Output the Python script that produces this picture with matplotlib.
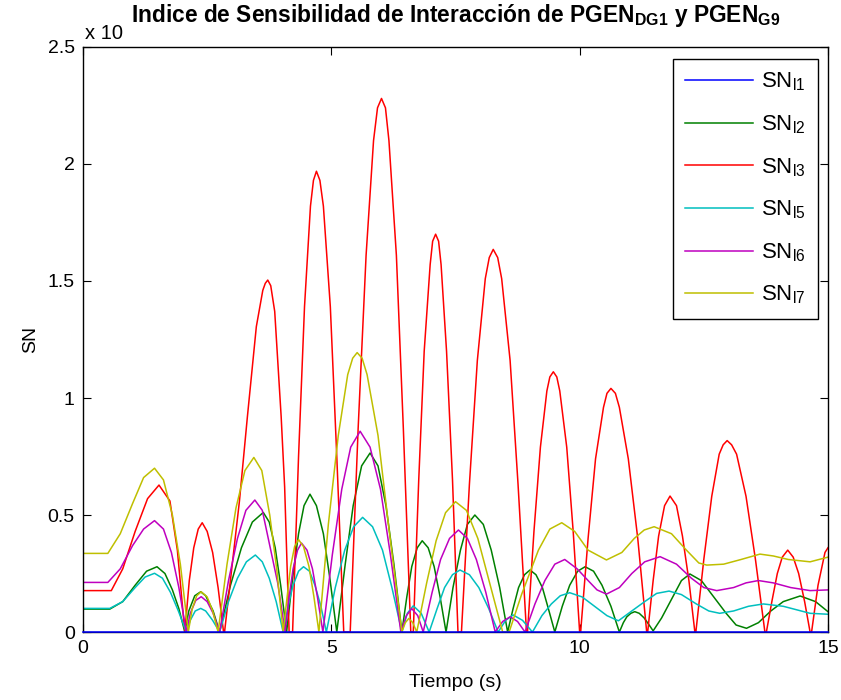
import matplotlib
matplotlib.use("Agg")
import matplotlib.pyplot as plt

plt.rcParams["font.family"] = ["Liberation Sans", "DejaVu Sans"]
plt.rcParams["mathtext.fontset"] = "custom"
plt.rcParams["mathtext.rm"] = "Liberation Sans"
plt.rcParams["mathtext.bf"] = "Liberation Sans:bold"

# values (units of 1e-n, time in s)
t_l1 = [0.0, 15.0]
sn_l1 = [0.0, 0.0]

t_l2 = [0.0, 0.54, 0.80, 1.05, 1.28, 1.49, 1.65, 1.80, 1.93, 2.05,
        2.13, 2.25, 2.37, 2.47, 2.62, 2.75,
        2.97, 3.19, 3.41, 3.63, 3.75, 3.87, 3.98, 4.10,
        4.22, 4.34, 4.45, 4.57, 4.70, 4.84, 4.97, 5.11,
        5.28, 5.44, 5.61, 5.78, 5.94, 6.10, 6.26, 6.42,
        6.52, 6.62, 6.73, 6.83, 6.95, 7.07, 7.19, 7.31,
        7.45, 7.60, 7.74, 7.89, 8.06, 8.22, 8.39, 8.55,
        8.66, 8.77, 8.89, 9.00, 9.12, 9.25, 9.37, 9.50,
        9.65, 9.80, 9.96, 10.11, 10.28, 10.45, 10.63, 10.80,
        10.88, 10.95, 11.03, 11.11, 11.20, 11.30, 11.40, 11.48,
        11.65, 11.85, 12.05, 12.22, 12.45, 12.70, 12.95, 13.15, 13.36,
        13.60, 13.85, 14.10, 14.44, 14.75, 15.0]
sn_l2 = [0.098, 0.098, 0.13, 0.20, 0.26, 0.279, 0.25, 0.18, 0.10, 0.0,
         0.09, 0.155, 0.172, 0.155, 0.09, 0.0,
         0.20, 0.36, 0.47, 0.511, 0.47, 0.36, 0.20, 0.0,
         0.23, 0.42, 0.54, 0.589, 0.54, 0.42, 0.23, 0.0,
         0.29, 0.54, 0.71, 0.765, 0.71, 0.54, 0.29, 0.0,
         0.15, 0.28, 0.36, 0.39, 0.36, 0.28, 0.15, 0.0,
         0.19, 0.35, 0.46, 0.50, 0.46, 0.35, 0.19, 0.0,
         0.10, 0.19, 0.245, 0.265, 0.245, 0.19, 0.10, 0.0,
         0.11, 0.20, 0.26, 0.279, 0.26, 0.20, 0.11, 0.0,
         0.04, 0.065, 0.08, 0.087, 0.08, 0.06, 0.03, 0.005,
         0.06, 0.14, 0.22, 0.248, 0.22, 0.15, 0.08, 0.03, 0.016,
         0.04, 0.09, 0.13, 0.154, 0.13, 0.087]

t_l3 = [0.0, 0.57, 0.80, 1.05, 1.30, 1.53, 1.75, 1.90, 2.05,
        2.14, 2.23, 2.32, 2.40, 2.50, 2.61, 2.72, 2.83,
        2.85, 3.00, 3.15, 3.31, 3.49, 3.62, 3.67, 3.72, 3.78, 3.86, 3.99, 4.06, 4.15,
        4.22, 4.34, 4.46, 4.58, 4.64, 4.70, 4.77, 4.84, 4.98, 5.11, 5.25,
        5.38, 5.54, 5.70, 5.85, 5.93, 6.01, 6.09, 6.16, 6.31, 6.45, 6.60,
        6.65, 6.76, 6.87, 6.99, 7.04, 7.10, 7.16, 7.21, 7.32, 7.44, 7.55,
        7.62, 7.78, 7.94, 8.10, 8.18, 8.26, 8.35, 8.43, 8.60, 8.76, 8.93,
        8.95, 9.08, 9.21, 9.34, 9.40, 9.47, 9.54, 9.60, 9.74, 9.87, 10.0,
        10.02, 10.17, 10.32, 10.48, 10.55, 10.63, 10.72, 10.80, 10.98, 11.17, 11.35,
        11.37, 11.48, 11.59, 11.71, 11.82, 11.95, 12.07, 12.20, 12.32,
        12.34, 12.50, 12.66, 12.81, 12.89, 12.97, 13.06, 13.16, 13.35, 13.54, 13.73,
        13.76, 13.87, 13.98, 14.08, 14.19, 14.30, 14.41, 14.53, 14.64,
        14.67, 14.80, 14.94, 15.0]
sn_l3 = [0.177, 0.177, 0.27, 0.43, 0.57, 0.628, 0.56, 0.35, 0.0,
         0.22, 0.36, 0.44, 0.467, 0.43, 0.34, 0.19, 0.0,
         0.0, 0.28, 0.56, 0.92, 1.305, 1.46, 1.49, 1.504, 1.48, 1.37, 0.92, 0.62, 0.0,
         0.0, 0.75, 1.39, 1.82, 1.93, 1.969, 1.93, 1.82, 1.39, 0.75, 0.0,
         0.0, 0.87, 1.61, 2.10, 2.24, 2.28, 2.24, 2.10, 1.61, 0.87, 0.0,
         0.0, 0.65, 1.20, 1.57, 1.67, 1.70, 1.67, 1.57, 1.20, 0.65, 0.0,
         0.0, 0.63, 1.16, 1.51, 1.60, 1.635, 1.60, 1.51, 1.16, 0.63, 0.0,
         0.0, 0.43, 0.79, 1.03, 1.09, 1.112, 1.09, 1.03, 0.79, 0.43, 0.0,
         0.0, 0.40, 0.74, 0.96, 1.02, 1.041, 1.02, 0.96, 0.74, 0.40, 0.0,
         0.0, 0.22, 0.41, 0.54, 0.581, 0.54, 0.41, 0.22, 0.0,
         0.0, 0.31, 0.58, 0.76, 0.80, 0.818, 0.80, 0.76, 0.58, 0.31, 0.0,
         0.0, 0.13, 0.25, 0.32, 0.35, 0.32, 0.25, 0.13, 0.0,
         0.0, 0.20, 0.34, 0.36]

t_l5 = [0.0, 0.54, 0.80, 1.05, 1.25, 1.44, 1.60, 1.76, 1.92, 2.08,
        2.16, 2.26, 2.37, 2.47, 2.61, 2.75,
        2.93, 3.11, 3.29, 3.47, 3.61, 3.75, 3.89, 4.03,
        4.13, 4.23, 4.34, 4.44, 4.56, 4.67, 4.79, 4.90,
        5.08, 5.27, 5.45, 5.63, 5.83, 6.03, 6.22, 6.42,
        6.53, 6.65, 6.81, 6.97,
        7.13, 7.28, 7.44, 7.59, 7.78, 7.97, 8.17, 8.36,
        8.51, 8.66, 8.85, 9.05,
        9.24, 9.43, 9.61, 9.80, 10.05, 10.30, 10.55, 10.78,
        11.05, 11.31, 11.55, 11.80, 12.05, 12.35, 12.60, 12.82,
        13.10, 13.40, 13.70, 14.10, 14.64, 15.0]
sn_l5 = [0.101, 0.101, 0.13, 0.19, 0.235, 0.251, 0.23, 0.17, 0.09, 0.0,
         0.05, 0.09, 0.101, 0.09, 0.05, 0.0,
         0.13, 0.23, 0.30, 0.329, 0.30, 0.23, 0.13, 0.0,
         0.11, 0.20, 0.26, 0.279, 0.26, 0.20, 0.11, 0.0,
         0.19, 0.35, 0.45, 0.49, 0.45, 0.35, 0.19, 0.0,
         0.08, 0.112, 0.08, 0.0,
         0.10, 0.19, 0.245, 0.265, 0.245, 0.19, 0.10, 0.0,
         0.05, 0.073, 0.05, 0.0,
         0.07, 0.12, 0.155, 0.168, 0.15, 0.11, 0.07, 0.048,
         0.09, 0.13, 0.165, 0.175, 0.16, 0.12, 0.09, 0.08,
         0.09, 0.11, 0.12, 0.11, 0.08, 0.076]

t_l6 = [0.0, 0.50, 0.75, 1.00, 1.22, 1.44, 1.62, 1.78, 1.93, 2.08,
        2.16, 2.27, 2.38, 2.50, 2.62, 2.75,
        2.93, 3.11, 3.28, 3.46, 3.61, 3.76, 3.92, 4.07,
        4.15, 4.23, 4.32, 4.40, 4.51, 4.62, 4.72, 4.83,
        5.02, 5.21, 5.39, 5.58, 5.78, 5.99, 6.19, 6.40,
        6.51, 6.62, 6.74, 6.85,
        7.03, 7.20, 7.38, 7.56, 7.74, 7.92, 8.11, 8.30,
        8.45, 8.60, 8.75, 8.90,
        9.10, 9.30, 9.50, 9.70, 9.95, 10.17, 10.35, 10.54,
        10.80, 11.05, 11.31, 11.62, 11.95, 12.25, 12.50, 12.76,
        13.10, 13.35, 13.60, 13.90, 14.25, 14.64, 15.0]
sn_l6 = [0.212, 0.212, 0.27, 0.37, 0.44, 0.476, 0.44, 0.34, 0.19, 0.0,
         0.08, 0.135, 0.151, 0.13, 0.08, 0.0,
         0.22, 0.40, 0.52, 0.564, 0.52, 0.37, 0.21, 0.0,
         0.15, 0.27, 0.35, 0.38, 0.35, 0.27, 0.15, 0.0,
         0.33, 0.61, 0.79, 0.858, 0.79, 0.61, 0.33, 0.0,
         0.07, 0.10, 0.07, 0.0,
         0.17, 0.31, 0.40, 0.436, 0.40, 0.31, 0.17, 0.0,
         0.045, 0.065, 0.045, 0.0,
         0.12, 0.22, 0.29, 0.31, 0.27, 0.22, 0.18, 0.162,
         0.19, 0.25, 0.30, 0.322, 0.29, 0.23, 0.19, 0.177,
         0.19, 0.21, 0.22, 0.21, 0.19, 0.177, 0.18]

t_l7 = [0.0, 0.50, 0.75, 1.00, 1.22, 1.44, 1.62, 1.80, 1.96, 2.12,
        2.20, 2.29, 2.38, 2.50, 2.61, 2.72,
        2.90, 3.08, 3.26, 3.44, 3.60, 3.76, 3.90, 4.03,
        4.11, 4.18, 4.26, 4.34, 4.44, 4.55, 4.65, 4.75,
        4.94, 5.14, 5.33, 5.43, 5.52, 5.62, 5.72, 5.94, 6.15, 6.42,
        6.49, 6.56, 6.64, 6.72,
        6.92, 7.11, 7.30, 7.50, 7.72, 7.95, 8.20, 8.45, 8.58,
        8.83, 9.17, 9.40, 9.64, 9.90, 10.17, 10.54,
        10.85, 11.10, 11.30, 11.50, 11.85, 12.15, 12.40, 12.56, 12.90,
        13.25, 13.63, 13.90, 14.20, 14.64, 15.0]
sn_l7 = [0.336, 0.336, 0.42, 0.55, 0.66, 0.70, 0.65, 0.50, 0.29, 0.0,
         0.10, 0.155, 0.172, 0.15, 0.09, 0.0,
         0.29, 0.53, 0.69, 0.746, 0.69, 0.50, 0.27, 0.0,
         0.15, 0.28, 0.365, 0.395, 0.365, 0.28, 0.15, 0.0,
         0.46, 0.84, 1.10, 1.17, 1.194, 1.17, 1.10, 0.84, 0.46, 0.0,
         0.04, 0.058, 0.04, 0.0,
         0.21, 0.39, 0.51, 0.557, 0.52, 0.40, 0.20, 0.0, 0.0,
         0.16, 0.35, 0.44, 0.467, 0.43, 0.35, 0.308,
         0.34, 0.40, 0.436, 0.45, 0.42, 0.35, 0.295, 0.286, 0.29,
         0.31, 0.333, 0.325, 0.31, 0.30, 0.32]

labels = ["SN$_{\\mathrm{l1}}$", "SN$_{\\mathrm{l2}}$", "SN$_{\\mathrm{l3}}$",
          "SN$_{\\mathrm{l5}}$", "SN$_{\\mathrm{l6}}$", "SN$_{\\mathrm{l7}}$"]
colors = [(0, 0, 1), (0, 0.5, 0), (1, 0, 0),
          (0, 0.75, 0.75), (0.75, 0, 0.75), (0.75, 0.75, 0)]

fig = plt.figure(figsize=(8.41, 7.0), dpi=100)
ax = fig.add_axes([0.0987, 0.0971, 0.8858, 0.8358])

series = [(t_l1, sn_l1), (t_l2, sn_l2), (t_l3, sn_l3),
          (t_l5, sn_l5), (t_l6, sn_l6), (t_l7, sn_l7)]
for i, ((t, v), lab, c) in enumerate(zip(series, labels, colors)):
    # SN_l1 sits on zero; keep it above the bottom spine like the original
    ax.plot(t, v, color=c, lw=1.1, label=lab,
            zorder=3 if i == 0 else 2, clip_on=(i != 0))

ax.set_xlim(0, 15)
ax.set_ylim(0, 2.5)
ax.set_xticks([0, 5, 10, 15])
ax.set_yticks([0, 0.5, 1, 1.5, 2, 2.5])
ax.set_yticklabels(["0", "0.5", "1", "1.5", "2", "2.5"])
ax.tick_params(direction="in", top=True, right=True, length=6, labelsize=14, pad=6)
for s in ax.spines.values():
    s.set_linewidth(1.0)

ax.set_xlabel("Tiempo (s)", fontsize=14, labelpad=12)
ax.set_ylabel("SN", fontsize=14, labelpad=6)
ax.set_title("Indice de Sensibilidad de Interacción de PGEN$_{\\mathbf{DG1}}$ y PGEN$_{\\mathbf{G9}}$",
             fontsize=16.4, fontweight="bold", pad=18)
fig.text(85 / 841, 1 - 39 / 700, "x 10", fontsize=14.5, va="baseline")

leg = ax.legend(loc="upper right", bbox_to_anchor=(0.987, 0.98), borderaxespad=0,
                fontsize=16, handlelength=3.05, handletextpad=0.4,
                labelspacing=0.9, borderpad=0.55,
                fancybox=False, framealpha=1, edgecolor="black")
leg.get_frame().set_linewidth(1.0)

fig.savefig("out.png", dpi=100)
